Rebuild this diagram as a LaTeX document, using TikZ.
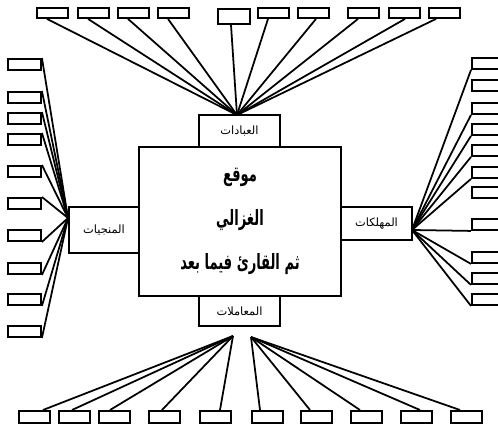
\documentclass[tikz,border=0pt]{standalone}
\usepackage{fontspec}
\newfontfamily\arabicfont[Script=Arabic]{DejaVu Sans}
\newfontfamily\arabictitle[Script=Arabic, FakeStretch=0.62]{DejaVu Sans}
\TeXXeTstate=1
\usetikzlibrary{calc}

\tikzset{
  leaf/.style={draw, line width=1.1pt, fill=white, minimum width=0.62cm,
               minimum height=0.21cm, inner sep=0pt, anchor=north west},
  part/.style={draw, line width=1pt, fill=white, inner sep=0pt,
               font=\arabicfont\fontsize{6.5}{8}\selectfont},
  spoke/.style={line width=1pt},
}

\begin{document}
\begin{tikzpicture}[x=0.02cm, y=-0.02cm]
  \useasboundingbox (0,0) rectangle (498,428);
  \clip (0,0) rectangle (498,428);

  % four parts round the centre
  \node[part, minimum width=1.62cm, minimum height=0.64cm] (ibadat) at (239.5,131) {\beginR العبادات\endR};
  \node[part, minimum width=1.62cm, minimum height=0.6cm] (muamalat) at (239.5,311) {\beginR المعاملات\endR};
  \node[part, minimum width=1.4cm, minimum height=0.92cm] (munjiyat) at (104,230) {\beginR المنجيات\endR};
  \node[part, minimum width=1.42cm, minimum height=0.66cm] (muhlikat) at (376.5,223.5) {\beginR المهلكات\endR};

  % centre
  \node[draw, line width=1.1pt, fill=white, minimum width=4.04cm, minimum height=2.98cm,
        align=center, font=\arabictitle\bfseries\fontsize{12}{25}\selectfont] (site) at (240,221.5)
        {\beginR موقع\endR\\ \beginR الغزالي\endR\\ \beginR ثم القارئ فيما بعد\endR};

  % hubs
  \coordinate (hubT) at (237,115);
  \coordinate (hubL) at (68,218);
  \coordinate (hubR) at (412,230);
  \coordinate (hubB1) at (233,336);
  \coordinate (hubB2) at (251,337);

  % top row
  \foreach \n/\x/\a in {1/36/11, 2/77/11, 3/117/11, 4/157/11, 6/257/11,
                        7/297/19, 8/347/11, 9/388/17, 10/428/8} {
    \node[leaf, minimum height=0.2cm] (t\n) at (\x,7) {};
    \draw[spoke] (hubT) -- ($(t\n.south west)+(\a,0)$);
  }
  \node[leaf, minimum width=0.64cm, minimum height=0.3cm] (t5) at (217,8) {};
  \draw[spoke] (hubT) -- ($(t5.south west)+(14,0)$);

  % left column
  \foreach \n/\y in {1/58, 2/91, 3/112, 4/133, 5/165, 6/197} {
    \node[leaf, minimum width=0.66cm, minimum height=0.22cm] (l\n) at (7,\y) {};
    \draw[spoke] (hubL) -- (l\n.north east);
  }
  \foreach \n/\y in {7/229, 8/262, 9/293, 10/325} {
    \node[leaf, minimum width=0.66cm, minimum height=0.22cm] (l\n) at (7,\y) {};
    \draw[spoke] (hubL) -- (l\n.south east);
  }

  % right column
  \foreach \n/\y in {1/57, 2/79, 3/102, 4/123, 5/144, 6/166, 7/186, 8/218, 9/251, 10/272, 11/293} {
    \node[leaf, minimum width=0.64cm, minimum height=0.22cm] (r\n) at (471,\y) {};
  }
  \foreach \n in {1,3,4,5,6,8,9,10,11}
    \draw[spoke] (hubR) -- (r\n.south west);

  % bottom row
  \foreach \n/\x/\a in {1/18/25, 2/58/14, 3/98/12, 4/148/14, 5/199/21} {
    \node[leaf, minimum height=0.24cm] (b\n) at (\x,410) {};
    \draw[spoke] (hubB1) -- ($(b\n.north west)+(\a,0)$);
  }
  \foreach \n/\x/\a in {6/251/9, 7/300/10, 8/350/10, 9/400/20, 10/450/10} {
    \node[leaf, minimum height=0.24cm] (b\n) at (\x,410) {};
    \draw[spoke] (hubB2) -- ($(b\n.north west)+(\a,0)$);
  }
\end{tikzpicture}
\end{document}
